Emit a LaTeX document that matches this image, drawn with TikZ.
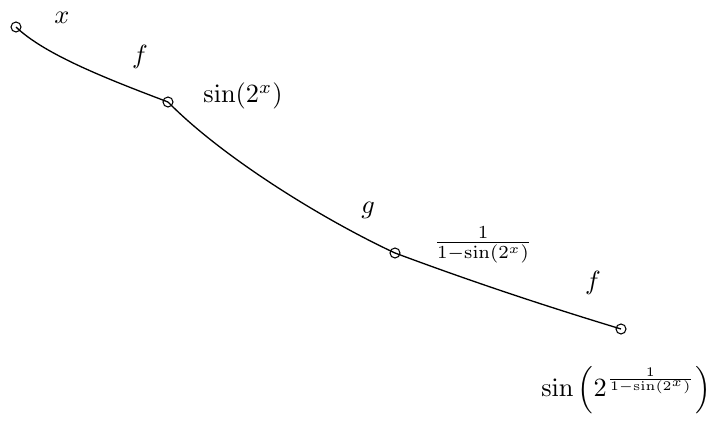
\documentclass[tikz,border=0pt]{standalone}
\usepackage{amsmath}
\begin{document}
\begin{tikzpicture}[x=0.38pt,y=-0.38pt,
  pt/.style={circle,draw,inner sep=0pt,minimum size=10*0.38pt,line width=0.4pt},
  lbl/.style={inner sep=0pt},
  edge/.style={line width=0.5pt}]
\useasboundingbox (0,0) rectangle (716,423);
\coordinate (A) at (16,27);
\coordinate (B) at (168,102);
\coordinate (C) at (395,253);
\coordinate (D) at (621,329);
\draw[edge] (A) .. controls (45,55) and (110,80) .. (B);
\draw[edge] (B) .. controls (222,157) and (322,219) .. (C);
\draw[edge] (C) .. controls (470,281) and (545,306) .. (D);
\node[pt] (pA) at (A) {};
\node[pt] (pB) at (B) {};
\node[pt] (pC) at (C) {};
\node[pt] (pD) at (D) {};
\node[lbl] (lx) at (62,18) {$x$};
\node[lbl] (lf1) at (140,57) {$f$};
\node[lbl] (lsin) at (243,96) {$\sin(2^x)$};
\node[lbl] (lg) at (368,210) {$g$};
\node[lbl] (lfrac) at (483,245) {$\frac{1}{1-\sin(2^x)}$};
\node[lbl] (lf2) at (593,283) {$f$};
\node[lbl] (lfin) at (626,390) {$\sin\left(2^{\frac{1}{1-\sin(2^x)}}\right)$};
\end{tikzpicture}
\end{document}
